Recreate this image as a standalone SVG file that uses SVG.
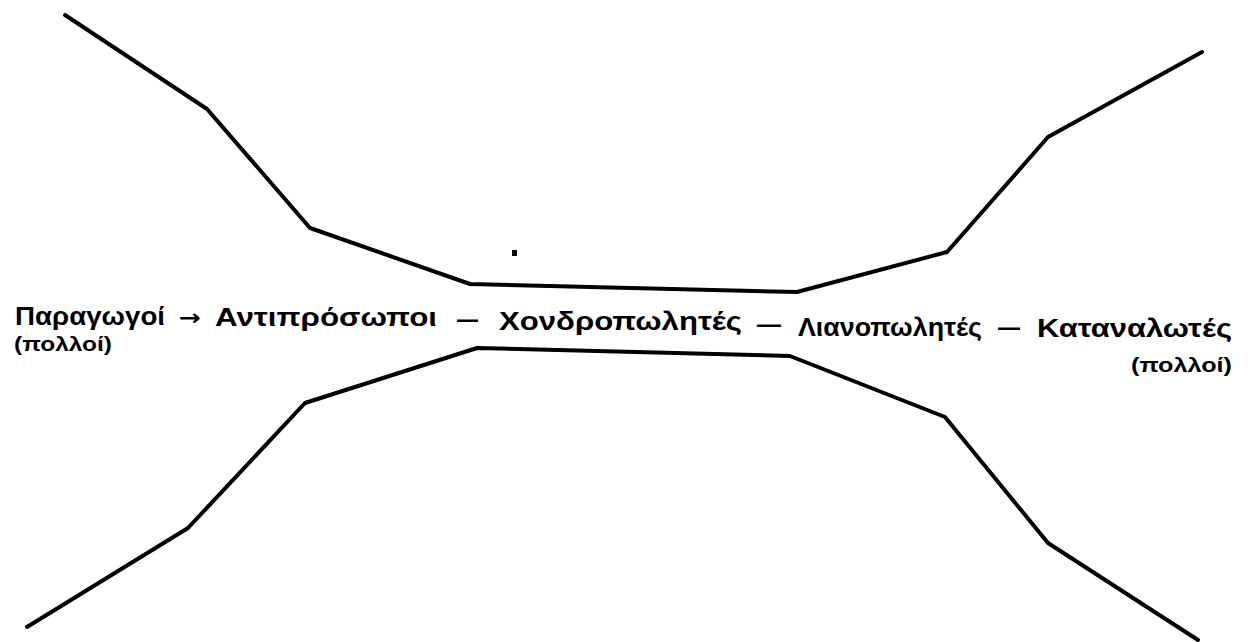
<svg xmlns="http://www.w3.org/2000/svg" width="1250" height="642" viewBox="0 0 1250 642">
<style>
.ln{fill:none;stroke:#000;stroke-width:4;stroke-linejoin:round;stroke-linecap:round}
.t{font-family:"Liberation Sans","DejaVu Sans",sans-serif;font-weight:bold;font-size:25px;fill:#000}
.s{font-size:21px}
.a{font-family:"DejaVu Sans",sans-serif;font-size:22px}
</style>
<rect width="1250" height="642" fill="#fff"/>
<g id="connectors">
<polyline class="ln" points="65,15 207,109 310,228 470,284 797,292 947,252 1048,137 1202,52"/>
<polyline class="ln" points="27,627 188,528 305,403 477,348 790,356 945,417 1048,543 1198,640"/>
</g>
<rect x="512" y="250" width="5" height="6" fill="#000"/>
<g id="labels">
<g id="n-paragogoi">
<text class="t" x="15" y="325" textLength="150" lengthAdjust="spacingAndGlyphs">Παραγωγοί</text>
<text class="t s" x="14" y="351" textLength="98" lengthAdjust="spacingAndGlyphs">(πολλοί)</text>
</g>
<text class="t a" x="179" y="325" textLength="22" lengthAdjust="spacingAndGlyphs">→</text>
<g id="n-antiprosopoi"><text class="t" x="215" y="326" textLength="222" lengthAdjust="spacingAndGlyphs">Αντιπρόσωποι</text></g>
<text class="t" x="457" y="328" textLength="21" lengthAdjust="spacingAndGlyphs">—</text>
<g id="n-chondro"><text class="t" x="499" y="330" textLength="243" lengthAdjust="spacingAndGlyphs">Χονδροπωλητές</text></g>
<text class="t" x="757" y="333" textLength="24" lengthAdjust="spacingAndGlyphs">—</text>
<g id="n-liano"><text class="t" x="798" y="336" textLength="184" lengthAdjust="spacingAndGlyphs">Λιανοπωλητές</text></g>
<text class="t" x="998" y="336" textLength="22" lengthAdjust="spacingAndGlyphs">—</text>
<g id="n-katanalotes">
<text class="t" x="1037" y="337" textLength="195" lengthAdjust="spacingAndGlyphs">Καταναλωτές</text>
<text class="t s" x="1131" y="372" textLength="101" lengthAdjust="spacingAndGlyphs">(πολλοί)</text>
</g>
</g>
</svg>
